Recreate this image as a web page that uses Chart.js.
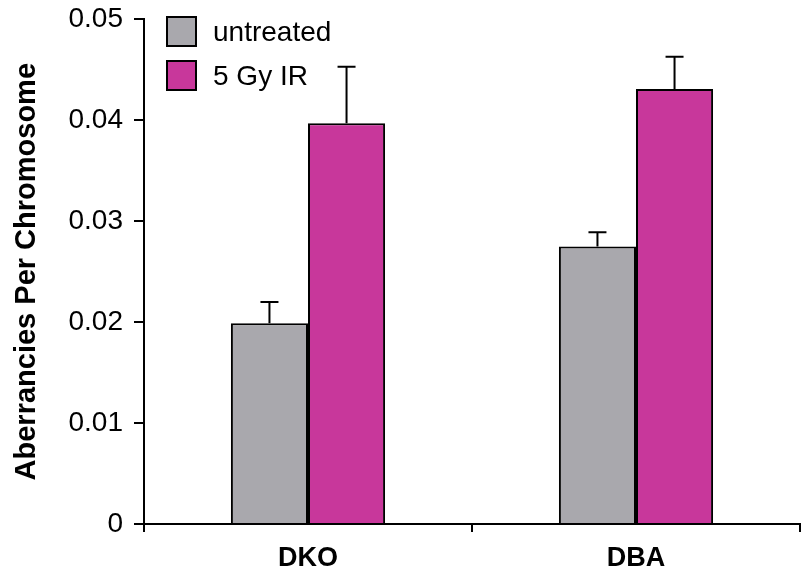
<!DOCTYPE html>
<html>
<head>
<meta charset="utf-8">
<script src="https://cdn.jsdelivr.net/npm/chart.js@4"></script>
<style>
  body { margin: 0; background: #fff; }
  #wrap { width: 804px; height: 576px; }
</style>
</head>
<body>
<div id="wrap"><canvas id="ctaberr"></canvas></div>
<script>
var groups = ["DKO", "DBA"];
var untreated = [0.0199, 0.0275];
var untreatedErr = [0.0021, 0.0014];
var irradiated = [0.0397, 0.0431];
var irradiatedErr = [0.0056, 0.0032];
var yTicks = [0, 0.01, 0.02, 0.03, 0.04, 0.05];

var fontName = "'Liberation Sans', Arial, Helvetica, sans-serif";

// error bars, upper side only, drawn through the scales
var errorBars = {
  id: "errorBars",
  afterDatasetsDraw: function(chart) {
    var ctx = chart.ctx;
    var yScale = chart.scales.y;
    ctx.save();
    ctx.strokeStyle = "#000";
    ctx.lineWidth = 2;
    chart.data.datasets.forEach(function(ds, i) {
      var meta = chart.getDatasetMeta(i);
      meta.data.forEach(function(bar, j) {
        var top = yScale.getPixelForValue(ds.data[j] + ds.errors[j]);
        ctx.beginPath();
        ctx.moveTo(bar.x, bar.y);
        ctx.lineTo(bar.x, top);
        ctx.moveTo(bar.x - 9, top);
        ctx.lineTo(bar.x + 9, top);
        ctx.stroke();
      });
    });
    ctx.restore();
  }
};

// legend in the top left corner of the plot
var boxLegend = {
  id: "boxLegend",
  afterDraw: function(chart) {
    var ctx = chart.ctx;
    ctx.save();
    ctx.font = "28px " + fontName;
    ctx.textBaseline = "middle";
    chart.data.datasets.forEach(function(ds, i) {
      var bx = 167, by = 17 + i * 44;
      ctx.fillStyle = ds.backgroundColor;
      ctx.fillRect(bx, by, 29, 29);
      ctx.strokeStyle = "#000";
      ctx.lineWidth = 2;
      ctx.strokeRect(bx, by, 29, 29);
      ctx.fillStyle = "#000";
      ctx.fillText(ds.label, 213, by + 16);
    });
    ctx.restore();
  }
};

new Chart("ctaberr", {
  type: "bar",
  data: {
    labels: groups,
    datasets: [{
      label: "untreated",
      data: untreated,
      errors: untreatedErr,
      backgroundColor: "#a9a8ad",
      borderColor: "#000",
      borderWidth: 2
    }, {
      label: "5 Gy IR",
      data: irradiated,
      errors: irradiatedErr,
      backgroundColor: "#c8379b",
      borderColor: "#000",
      borderWidth: 2
    }]
  },
  options: {
    responsive: true,
    maintainAspectRatio: false,
    animation: false,
    layout: { padding: { top: 8, right: 4, left: 0, bottom: 0 } },
    plugins: {
      legend: { display: false },
      tooltip: { enabled: false }
    },
    datasets: {
      bar: { categoryPercentage: 0.47, barPercentage: 1 }
    },
    scales: {
      x: {
        border: { color: "#000", width: 2 },
        grid: {
          display: true, drawOnChartArea: false, drawTicks: true,
          tickLength: 8, color: "#000", lineWidth: 2, offset: true
        },
        ticks: {
          color: "#000", padding: 10,
          font: { family: fontName, size: 27, weight: "bold" }
        },
        afterFit: function(scale) { scale.height = 52; }
      },
      y: {
        min: 0,
        max: 0.05,
        afterBuildTicks: function(scale) {
          scale.ticks = yTicks.map(function(v) { return { value: v }; });
        },
        border: { color: "#000", width: 2 },
        grid: {
          display: true, drawOnChartArea: false, drawTicks: true,
          tickLength: 10, color: "#000", lineWidth: 2
        },
        ticks: {
          color: "#000", padding: 11,
          font: { family: fontName, size: 28, lineHeight: 0.6 },
          callback: function(v) { return v === 0 ? "0" : v.toFixed(2); }
        },
        title: {
          display: true,
          text: "Aberrancies Per Chromosome",
          color: "#000",
          padding: { top: 10, bottom: 0 },
          font: { family: fontName, size: 29, weight: "bold" }
        },
        afterFit: function(scale) { scale.width = 144; }
      }
    }
  },
  plugins: [errorBars, boxLegend]
});
</script>
</body>
</html>
